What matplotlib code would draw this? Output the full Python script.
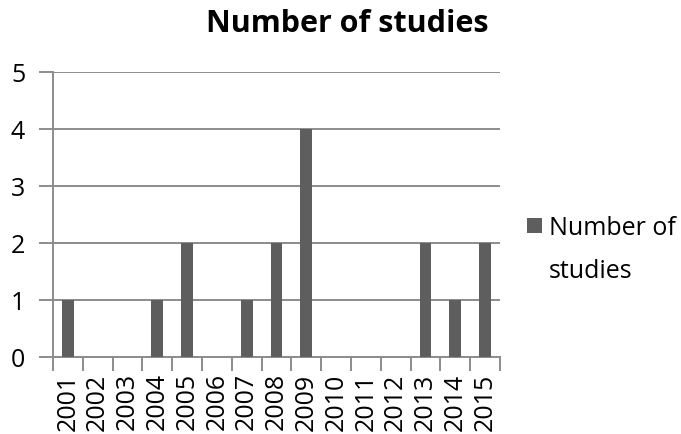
import matplotlib.pyplot as plt
import numpy as np

years = ["2001", "2002", "2003", "2004", "2005", "2006", "2007", "2008",
         "2009", "2010", "2011", "2012", "2013", "2014", "2015"]
counts = [1, 0, 0, 1, 2, 0, 1, 2, 4, 0, 0, 0, 2, 1, 2]
y_ticks = [0, 1, 2, 3, 4, 5]

plt.rcParams['font.family'] = ['Open Sans', 'DejaVu Sans']

fig = plt.figure(figsize=(6.81, 4.35), dpi=100)
ax = fig.add_axes([53 / 681, 77 / 435, (500 - 53) / 681, (358 - 73) / 435])

grid_col = "#8c8c8c"
bar_col = "#5e5e5e"

x = np.arange(len(years))
bars = ax.bar(x, counts, width=0.4, color=bar_col, zorder=3, label="Number of")

ax.set_xlim(-0.5, len(years) - 0.5)
ax.set_ylim(0, 5)
ax.set_yticks(y_ticks)
ax.set_yticklabels([str(v) for v in y_ticks], fontsize=18)
ax.yaxis.grid(True, color=grid_col, linewidth=1.4, zorder=0)
ax.tick_params(axis='y', length=10, width=1.4, color=grid_col, pad=10)

# labels at centres, tick marks at category boundaries
ax.set_xticks(x)
ax.set_xticklabels(years, rotation=90, fontsize=18)
ax.tick_params(axis='x', which='major', length=0, pad=11)
ax.set_xticks(np.arange(-0.5, len(years)), minor=True)
ax.tick_params(axis='x', which='minor', length=10, width=1.4, color=grid_col)

for s in ['top', 'right']:
    ax.spines[s].set_visible(False)
for s in ['left', 'bottom']:
    ax.spines[s].set_color(grid_col)
    ax.spines[s].set_linewidth(1.4)

fig.text(347 / 681, 1 - 24 / 435, "Number of studies", ha='center', va='center',
         fontsize=22, fontweight='bold')

leg = fig.legend(handles=[bars], labels=["Number of"], loc='center left',
                 bbox_to_anchor=(527 / 681, 1 - 229 / 435), frameon=False,
                 fontsize=18, handlelength=0.58, handleheight=0.58,
                 handletextpad=0.3, borderpad=0, borderaxespad=0)

fig.canvas.draw()
bb = leg.get_texts()[0].get_window_extent()
fig.text(bb.x0 / 681, (bb.y0 - 42) / 435, "studies",
         fontsize=18, ha='left', va='bottom')

fig.savefig("out.png", dpi=100)
